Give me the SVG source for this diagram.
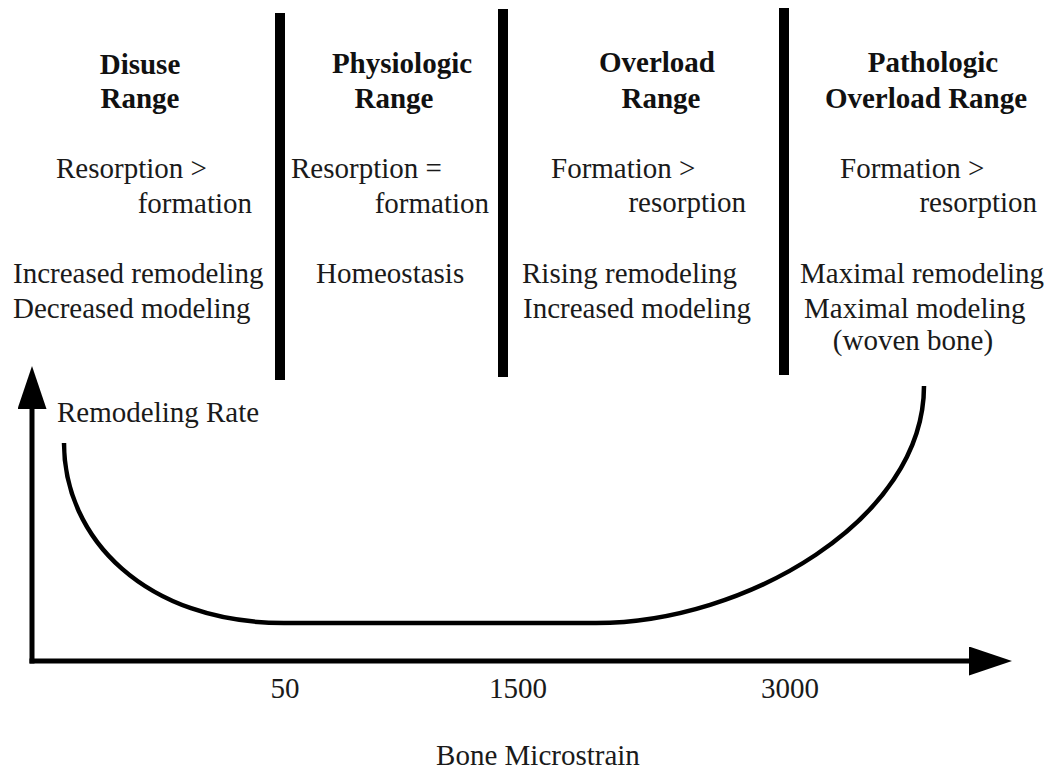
<svg xmlns="http://www.w3.org/2000/svg" width="1059" height="771" viewBox="0 0 1059 771">
  <style>
    text { font-family: "Liberation Serif", "Times New Roman", serif; font-size: 29px; fill: #1a1a1a; }
    .h { font-weight: bold; text-anchor: middle; fill: #111; }
    .e { text-anchor: end; }
    .m { text-anchor: middle; }
    .bar { stroke: #000; stroke-width: 10; }
    .axis { stroke: #000; stroke-width: 5; fill: none; stroke-linecap: square; }
    .curve { stroke: #000; stroke-width: 4.5; fill: none; }
  </style>
  <defs>
    <marker id="arrow" markerUnits="userSpaceOnUse" markerWidth="44" markerHeight="30" refX="1" refY="14.5" orient="auto">
      <path d="M0,0 L43,14.5 L0,29 z" fill="#000"/>
    </marker>
  </defs>
  <rect width="1059" height="771" fill="#fff"/>

  <g id="dividers">
    <line class="bar" x1="280" y1="13" x2="280" y2="380"/>
    <line class="bar" x1="503" y1="9" x2="503" y2="377"/>
    <line class="bar" x1="784" y1="8" x2="784" y2="375"/>
  </g>

  <g id="disuse">
    <text class="h" x="140" y="74">Disuse</text>
    <text class="h" x="140" y="108">Range</text>
    <text x="56" y="178">Resorption &gt;</text>
    <text class="e" x="252" y="213">formation</text>
    <text x="13" y="283">Increased remodeling</text>
    <text x="13" y="318">Decreased modeling</text>
  </g>

  <g id="physiologic">
    <text class="h" x="402" y="73">Physiologic</text>
    <text class="h" x="394" y="108">Range</text>
    <text x="291" y="178">Resorption =</text>
    <text class="e" x="489" y="213">formation</text>
    <text x="316" y="283">Homeostasis</text>
  </g>

  <g id="overload">
    <text class="h" x="657" y="72">Overload</text>
    <text class="h" x="661" y="108">Range</text>
    <text x="551" y="178">Formation &gt;</text>
    <text class="e" x="746" y="212">resorption</text>
    <text x="522" y="283">Rising remodeling</text>
    <text x="523" y="318">Increased modeling</text>
  </g>

  <g id="pathologic">
    <text class="h" x="933" y="72">Pathologic</text>
    <text class="h" x="926" y="108">Overload Range</text>
    <text x="840" y="178">Formation &gt;</text>
    <text class="e" x="1037" y="212">resorption</text>
    <text x="800" y="283">Maximal remodeling</text>
    <text x="804" y="318">Maximal modeling</text>
    <text class="m" x="913" y="350">(woven bone)</text>
  </g>

  <g id="axes">
    <path class="axis" d="M32,661 V408" marker-end="url(#arrow)"/>
    <path class="axis" d="M32,661 H970" marker-end="url(#arrow)"/>
    <text x="57" y="422">Remodeling Rate</text>
    <text class="m" x="285" y="698">50</text>
    <text class="m" x="518" y="698">1500</text>
    <text class="m" x="790" y="698">3000</text>
    <text class="m" x="538" y="765">Bone Microstrain</text>
  </g>

  <g id="connectors">
    <path class="curve" d="M64,443 C64,538 145,623 284,623 L596,623 C745,623 924,520 924,386"/>
  </g>
</svg>
